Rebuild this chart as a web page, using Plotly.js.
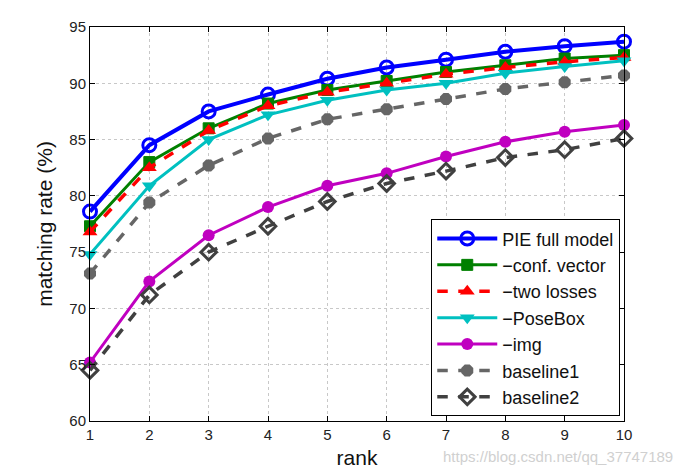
<!DOCTYPE html>
<html>
<head>
<meta charset="utf-8">
<script src="https://cdn.plot.ly/plotly-3.0.1.min.js"></script>
<style>html,body{margin:0;padding:0;background:#fff;}#chart{width:674px;height:475px;}</style>
</head>
<body>
<div id="chart"></div>
<script>
const ranks = [1,2,3,4,5,6,7,8,9,10];
const pieFull   = [78.6, 84.5, 87.5, 89.0, 90.4, 91.4, 92.1, 92.8, 93.3, 93.7];
const confVec   = [77.3, 83.0, 86.0, 88.2, 89.4, 90.2, 91.0, 91.6, 92.2, 92.5];
const twoLosses = [76.8, 82.5, 85.8, 88.0, 89.2, 90.0, 90.8, 91.4, 91.9, 92.3];
const poseBox   = [74.8, 80.9, 85.0, 87.2, 88.5, 89.4, 90.0, 90.9, 91.5, 92.0];
const img       = [65.2, 72.4, 76.5, 79.0, 80.9, 82.0, 83.5, 84.8, 85.7, 86.3];
const baseline1 = [73.1, 79.4, 82.7, 85.1, 86.8, 87.7, 88.6, 89.5, 90.1, 90.7];
const baseline2 = [64.5, 71.2, 75.0, 77.3, 79.5, 81.1, 82.2, 83.4, 84.1, 85.1];
const seriesNames = ['PIE full model', '\u2212conf. vector', '\u2212two losses', '\u2212PoseBox', '\u2212img', 'baseline1', 'baseline2'];
const xTicks = [1,2,3,4,5,6,7,8,9,10];
const yTicks = [60,65,70,75,80,85,90,95];

function tr(y, name, color, lw, dash, sym, msize, mlw, mcolor) {
  return {
    x: ranks, y: y, name: name, type: 'scatter', mode: 'lines+markers', cliponaxis: false,
    line: {color: color, width: lw, dash: dash},
    marker: {symbol: sym, size: msize, color: mcolor || color, line: {color: color, width: mlw}}
  };
}
const data = [
  tr(pieFull, seriesNames[0], '#0000ff', 4, 'solid', 'circle-open', 13, 3),
  tr(confVec, seriesNames[1], '#008000', 3, 'solid', 'square', 11, 1),
  tr(twoLosses, seriesNames[2], '#ff0000', 3.5, 'dash', 'triangle-up', 13, 0),
  tr(poseBox, seriesNames[3], '#00c0c0', 3, 'solid', 'triangle-down', 13, 0),
  tr(img, seriesNames[4], '#c000c0', 3, 'solid', 'circle', 12, 0),
  tr(baseline1, seriesNames[5], '#666666', 3.5, 'dash', 'octagon', 13, 0),
  tr(baseline2, seriesNames[6], '#404040', 3.5, 'dash', 'diamond-open', 12, 3)
];
const axisCommon = {
  showline: true, linecolor: '#000', linewidth: 1, mirror: 'ticks',
  ticks: 'inside', ticklen: 5, tickcolor: '#000',
  showgrid: true, gridcolor: '#c8c8c8', griddash: 'dot', gridwidth: 1,
  zeroline: false, tickfont: {family: 'Liberation Sans, Arial, sans-serif', size: 15, color: '#222'}
};
const layout = {
  width: 674, height: 475,
  margin: {l: 90, r: 50, t: 27, b: 54},
  paper_bgcolor: '#fff', plot_bgcolor: '#fff',
  showlegend: true,
  font: {family: 'Liberation Sans, Arial, sans-serif', color: '#111'},
  xaxis: Object.assign({}, axisCommon, {
    range: [1, 10], tickvals: xTicks, ticktext: xTicks.map(String),
    title: {text: 'rank', font: {size: 21, color: '#111'}, standoff: 8}
  }),
  yaxis: Object.assign({}, axisCommon, {
    range: [60, 95], tickvals: yTicks, ticktext: yTicks.map(String),
    title: {text: 'matching rate (%)', font: {size: 21, color: '#111'}, standoff: 10}
  }),
  legend: {
    x: 0.993, xanchor: 'right', y: 0.012, yanchor: 'bottom',
    bgcolor: '#fff', bordercolor: '#000', borderwidth: 1,
    font: {size: 18, color: '#111'}, tracegroupgap: 0, itemwidth: 60
  },
  annotations: [{
    text: 'https://blog.csdn.net/qq_37747189', xref: 'paper', yref: 'paper',
    x: 1.096, y: -0.09, xanchor: 'right', yanchor: 'middle', showarrow: false,
    font: {size: 15, color: '#d0d0d0'}
  }]
};
Plotly.newPlot('chart', data, layout, {displayModeBar: false, staticPlot: true});
</script>
</body>
</html>
